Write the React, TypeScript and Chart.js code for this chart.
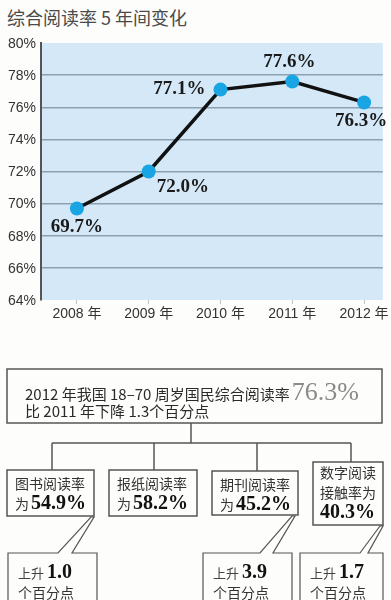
import React, { useEffect, useRef } from "react";
import { Chart, registerables } from "chart.js";

Chart.register(...registerables);

// ---- data ----
const YEARS = [2008, 2009, 2010, 2011, 2012];
const RATES = [69.7, 72.0, 77.1, 77.6, 76.3];
const Y_MIN = 64;
const Y_MAX = 80;
const Y_STEP = 2;

const TITLE = "综合阅读率 5 年间变化";
const SUMMARY_LINE1 = "2012 年我国 18–70 周岁国民综合阅读率";
const SUMMARY_VALUE = 76.3;
const SUMMARY_LINE2 = "比 2011 年下降 1.3个百分点";

const MEDIA_NAMES = ["图书阅读率", "报纸阅读率", "期刊阅读率", "数字阅读接触率"];
const MEDIA_RATES = [54.9, 58.2, 45.2, 40.3];
const CHANGE_VALUES = [1.0, 3.9, 1.7];

// label placement (style, not data)
const LABEL_PLACE = ["below", "belowRight", "left", "above", "below"];

const SANS = '"Liberation Sans", "Noto Sans CJK SC", sans-serif';
const CJK = '"Noto Sans CJK SC", "Liberation Sans", sans-serif';
const SERIF = '"Liberation Serif", "DejaVu Serif", serif';

const bgPlugin = {
  id: "plotBg",
  beforeDraw(chart: any) {
    const { ctx, chartArea } = chart;
    ctx.save();
    ctx.fillStyle = "#d4e8f7";
    ctx.fillRect(chartArea.left, chartArea.top, chartArea.right - chartArea.left, chartArea.bottom - chartArea.top);
    ctx.restore();
  },
};

const labelPlugin = {
  id: "valueLabels",
  afterDatasetsDraw(chart: any) {
    const { ctx } = chart;
    const meta = chart.getDatasetMeta(0);
    ctx.save();
    ctx.font = `bold 19px ${SERIF}`;
    ctx.fillStyle = "#1a1a1a";
    ctx.textBaseline = "middle";
    meta.data.forEach((pt: any, i: number) => {
      const txt = RATES[i].toFixed(1) + "%";
      const place = LABEL_PLACE[i];
      let x = pt.x;
      let y = pt.y;
      if (place === "below") {
        ctx.textAlign = "center";
        y += 19;
        if (i === meta.data.length - 1) x -= 3;
      } else if (place === "belowRight") {
        ctx.textAlign = "left";
        x += 8;
        y += 16;
      } else if (place === "left") {
        ctx.textAlign = "right";
        x -= 15;
      } else {
        ctx.textAlign = "center";
        x -= 3;
        y -= 19;
      }
      ctx.fillText(txt, x, y);
    });
    ctx.restore();
  },
};

function LineChart() {
  const ref = useRef<HTMLCanvasElement | null>(null);
  useEffect(() => {
    if (!ref.current) return;
    const chart = new Chart(ref.current, {
      type: "line",
      data: {
        datasets: [
          {
            data: YEARS.map((yr, i) => ({ x: yr, y: RATES[i] })),
            borderColor: "#111",
            borderWidth: 3.5,
            pointRadius: 7,
            pointHoverRadius: 7,
            pointBackgroundColor: "#19a5e4",
            pointBorderWidth: 0,
            tension: 0,
          },
        ],
      },
      options: {
        animation: false,
        responsive: false,
        devicePixelRatio: 1,
        events: [],
        layout: { padding: { top: 43, right: 7, left: 0, bottom: 0 } },
        plugins: { legend: { display: false }, tooltip: { enabled: false }, title: { display: false } },
        scales: {
          x: {
            type: "linear",
            min: 2007.5,
            max: 2012.26,
            afterBuildTicks(scale: any) {
              scale.ticks = YEARS.map((v) => ({ value: v }));
            },
            afterFit(scale: any) {
              scale.height = 30;
            },
            border: { display: false },
            grid: { drawOnChartArea: false, tickLength: 4, color: "#b8c2c8", lineWidth: 1 },
            ticks: {
              padding: 2,
              color: "#333",
              font: { family: SANS, size: 14 },
              callback: (v: any) => `${v} 年`,
            },
          },
          y: {
            min: Y_MIN,
            max: Y_MAX,
            afterFit(scale: any) {
              scale.width = 41;
            },
            border: { display: true, color: "#555", width: 2 },
            grid: {
              drawTicks: false,
              lineWidth: 1.5,
              color: (c: any) =>
                c.tick && (c.tick.value === Y_MIN || c.tick.value === Y_MAX) ? "rgba(0,0,0,0)" : "#8ba1b2",
            },
            ticks: {
              stepSize: Y_STEP,
              padding: 5,
              labelOffset: 1,
              color: "#333",
              font: { family: SANS, size: 14 },
              callback: (v: any) => `${v}%`,
            },
          },
        },
      },
      plugins: [bgPlugin, labelPlugin],
    });
    return () => chart.destroy();
  }, []);
  return (
    <canvas
      ref={ref}
      width={391}
      height={330}
      style={{ position: "absolute", left: 0, top: 0, width: 391, height: 330 }}
    />
  );
}

const numStyle: React.CSSProperties = {
  fontFamily: SERIF,
  fontWeight: 700,
  fontSize: 20,
  color: "#111",
  lineHeight: "19px",
};

const rowStyle = (h: number): React.CSSProperties => ({ height: h, lineHeight: `${h}px`, whiteSpace: "nowrap" });

function Diagram() {
  const stroke = "#555";
  const sw = 1.5;
  const boxes = [
    { x: 7, y: 470, w: 87, h: 46 },
    { x: 109, y: 470, w: 88, h: 46 },
    { x: 212, y: 471, w: 86, h: 44 },
    { x: 313, y: 462, w: 70, h: 63 },
  ];
  const drops = [52, 154, 257, 351];
  const callouts = [
    "8,605 8,553 58,553 91,517 94,517 72,553 97,553 97,605",
    "203,605 203,553 260,553 292,516 295,516 273,553 292,553 292,605",
    "300,605 300,553 360,553 380,526 383,526 368,553 383,553 383,605",
  ];
  const calloutText = [18, 213, 310];
  return (
    <>
      <svg width={391} height={600} style={{ position: "absolute", left: 0, top: 0 }}>
        <rect x={7} y={369} width={375} height={54} fill="none" stroke={stroke} strokeWidth={sw} />
        <line x1={191} y1={423} x2={191} y2={443} stroke={stroke} strokeWidth={sw} />
        <line x1={52} y1={443} x2={351} y2={443} stroke={stroke} strokeWidth={sw} />
        {drops.map((dx, i) => (
          <line key={i} x1={dx} y1={443} x2={dx} y2={boxes[i].y} stroke={stroke} strokeWidth={sw} />
        ))}
        {boxes.map((b, i) => (
          <rect key={i} x={b.x} y={b.y} width={b.w} height={b.h} fill="none" stroke={stroke} strokeWidth={sw} />
        ))}
        {callouts.map((p, i) => (
          <polyline key={i} points={p} fill="none" stroke={stroke} strokeWidth={1.2} />
        ))}
      </svg>
      <div
        style={{
          position: "absolute",
          left: 25,
          top: 379,
          fontFamily: CJK,
          fontSize: 15,
          color: "#2a2a2a",
          ...rowStyle(26),
        }}
      >
        {SUMMARY_LINE1}
        <span style={{ fontFamily: SERIF, fontSize: 26, color: "#8a8a8a", marginLeft: 2, lineHeight: "26px" }}>
          {SUMMARY_VALUE.toFixed(1)}%
        </span>
      </div>
      <div
        style={{
          position: "absolute",
          left: 25,
          top: 402,
          fontFamily: CJK,
          fontSize: 15,
          color: "#2a2a2a",
          ...rowStyle(18),
        }}
      >
        {SUMMARY_LINE2}
      </div>
      {MEDIA_NAMES.slice(0, 3).map((name, i) => (
        <div
          key={i}
          style={{
            position: "absolute",
            left: boxes[i].x + 8,
            top: boxes[i].y + 4,
            fontFamily: CJK,
            fontSize: 14,
            color: "#333",
          }}
        >
          <div style={rowStyle(19)}>{name}</div>
          <div style={rowStyle(19)}>
            为<span style={{ ...numStyle, marginLeft: 2 }}>{MEDIA_RATES[i].toFixed(1)}%</span>
          </div>
        </div>
      ))}
      <div
        style={{
          position: "absolute",
          left: 320,
          top: 463,
          fontFamily: CJK,
          fontSize: 14,
          color: "#333",
        }}
      >
        <div style={rowStyle(19.5)}>{MEDIA_NAMES[3].slice(0, 4)}</div>
        <div style={rowStyle(19.5)}>{MEDIA_NAMES[3].slice(4)}为</div>
        <div style={{ ...rowStyle(19.5), ...numStyle, lineHeight: "19.5px" }}>{MEDIA_RATES[3].toFixed(1)}%</div>
      </div>
      {CHANGE_VALUES.map((v, i) => (
        <div
          key={i}
          style={{
            position: "absolute",
            left: calloutText[i],
            top: 562,
            fontFamily: CJK,
            fontSize: 14,
            color: "#333",
          }}
        >
          <div style={rowStyle(20)}>
            <span style={{ fontSize: 13, color: "#444" }}>上升 </span>
            <span style={numStyle}>{v.toFixed(1)}</span>
          </div>
          <div style={rowStyle(20)}>个百分点</div>
        </div>
      ))}
    </>
  );
}

export default function App() {
  return (
    <div
      style={{
        position: "absolute",
        left: 0,
        top: 0,
        width: 391,
        height: 600,
        overflow: "hidden",
        background: "#fdfdfb",
      }}
    >
      <div
        style={{
          position: "absolute",
          left: 7,
          top: 4,
          fontFamily: CJK,
          fontSize: 18,
          lineHeight: "26px",
          color: "#4a4a4a",
          whiteSpace: "nowrap",
        }}
      >
        {TITLE}
      </div>
      <LineChart />
      <Diagram />
    </div>
  );
}
